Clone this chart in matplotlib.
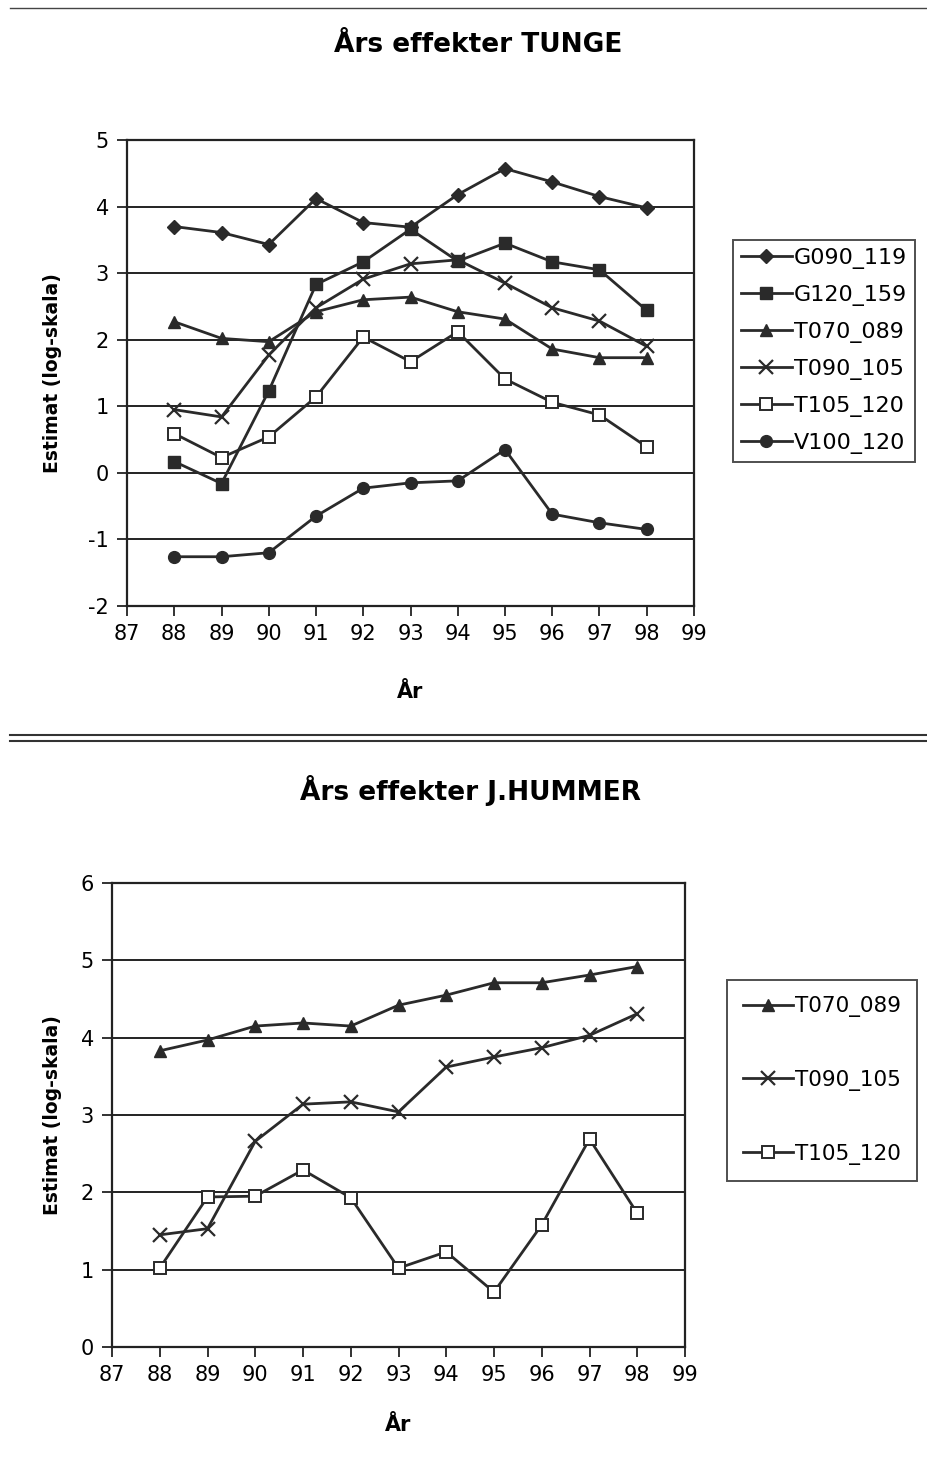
import matplotlib
matplotlib.use("Agg")
import matplotlib.pyplot as plt
from matplotlib.lines import Line2D

plt.rcParams['font.family'] = ['DejaVu Sans']

years = [88, 89, 90, 91, 92, 93, 94, 95, 96, 97, 98]

# Top chart: TUNGE
G090_119 = [3.70, 3.61, 3.43, 4.12, 3.76, 3.69, 4.18, 4.57, 4.37, 4.15, 3.98]
G120_159 = [0.17, -0.16, 1.23, 2.83, 3.17, 3.66, 3.18, 3.45, 3.17, 3.05, 2.44]
T070_089_top = [2.27, 2.02, 1.97, 2.42, 2.60, 2.64, 2.42, 2.31, 1.86, 1.73, 1.73]
T090_105_top = [0.95, 0.84, 1.77, 2.48, 2.91, 3.14, 3.20, 2.85, 2.48, 2.28, 1.90]
T105_120_top = [0.59, 0.23, 0.54, 1.14, 2.04, 1.67, 2.12, 1.41, 1.06, 0.87, 0.39]
V100_120 = [-1.26, -1.26, -1.20, -0.65, -0.23, -0.15, -0.12, 0.35, -0.62, -0.75, -0.85]

# Bottom chart: J.HUMMER
T070_089_bot = [3.83, 3.97, 4.15, 4.19, 4.15, 4.42, 4.55, 4.71, 4.71, 4.81, 4.92]
T090_105_bot = [1.45, 1.53, 2.66, 3.14, 3.17, 3.04, 3.62, 3.75, 3.87, 4.03, 4.31]
T105_120_bot = [1.02, 1.94, 1.95, 2.29, 1.93, 1.02, 1.23, 0.71, 1.58, 2.69, 1.73]

x_ticks = list(range(87, 100))
top_yticks = [-2, -1, 0, 1, 2, 3, 4, 5]
bot_yticks = [0, 1, 2, 3, 4, 5, 6]

LC = '#2a2a2a'
styles = {
    'G090_119': dict(marker='D', markersize=7, mfc=LC, mec=LC),
    'G120_159': dict(marker='s', markersize=8.5, mfc=LC, mec=LC),
    'T070_089': dict(marker='^', markersize=9, mfc=LC, mec=LC),
    'T090_105': dict(marker='x', markersize=10, mfc=LC, mec=LC, mew=1.6),
    'T105_120': dict(marker='s', markersize=8.5, mfc='white', mec=LC, mew=1.4),
    'V100_120': dict(marker='o', markersize=8.5, mfc=LC, mec=LC),
}

fig = plt.figure(figsize=(9.27, 14.78), dpi=100)
W, H = 927, 1478

def fx(px):
    return px / W

def fy(py):
    return 1 - py / H

def style_axes(ax, yticks, ylim, xlab_y, ylab_x):
    ax.set_xlim(87, 99)
    ax.set_ylim(*ylim)
    ax.set_xticks(x_ticks)
    ax.set_xticklabels([str(v) for v in x_ticks], fontsize=15)
    ax.set_yticks(yticks)
    ax.set_yticklabels([str(v) for v in yticks], fontsize=15)
    ax.yaxis.grid(True, color='#222222', linewidth=1.4)
    ax.set_axisbelow(True)
    for s in ax.spines.values():
        s.set_linewidth(1.6)
        s.set_color('#222222')
    ax.tick_params(axis='both', direction='out', length=7, width=1.3, color='#222222', pad=6)
    ax.set_xlabel('År', fontsize=15, fontweight='bold')
    ax.set_ylabel('Estimat (log-skala)', fontsize=13.5, fontweight='bold')
    ax.xaxis.set_label_coords(0.5, xlab_y)
    ax.yaxis.set_label_coords(ylab_x, 0.5)

# Top axes
ax1 = fig.add_axes([fx(127), fy(606), fx(694 - 127), (606 - 140) / H])
top_series = [
    ('G090_119', G090_119),
    ('G120_159', G120_159),
    ('T070_089', T070_089_top),
    ('T090_105', T090_105_top),
    ('T105_120', T105_120_top),
    ('V100_120', V100_120),
]
for name, vals in top_series:
    ax1.plot(years, vals, color=LC, linewidth=2.0, label=name, **styles[name])
style_axes(ax1, top_yticks, (-2, 5), -(682 - 606) / 466, -(127 - 62) / 567)
fig.text(fx(478), fy(45), 'Års effekter TUNGE', ha='center', va='center',
         fontsize=19, fontweight='bold')
leg1 = ax1.legend(loc='upper left', bbox_to_anchor=(fx(733), fy(240)),
                  bbox_transform=fig.transFigure, fontsize=16, frameon=True,
                  fancybox=False, edgecolor='#222222', handlelength=2.3,
                  handletextpad=0.1, labelspacing=0.72, borderpad=0.35,
                  borderaxespad=0)
leg1.get_frame().set_linewidth(1.4)

# Bottom axes
ax2 = fig.add_axes([fx(112), fy(1347), fx(685 - 112), (1347 - 883) / H])
bot_series = [
    ('T070_089', T070_089_bot),
    ('T090_105', T090_105_bot),
    ('T105_120', T105_120_bot),
]
for name, vals in bot_series:
    ax2.plot(years, vals, color=LC, linewidth=2.0, label=name, **styles[name])
style_axes(ax2, bot_yticks, (0, 6), -(1415 - 1347) / 464, -(112 - 62) / 573)
fig.text(fx(470), fy(790), 'Års effekter J.HUMMER', ha='center', va='center',
         fontsize=19, fontweight='bold')
leg2 = ax2.legend(loc='upper left', bbox_to_anchor=(fx(727), fy(980)),
                  bbox_transform=fig.transFigure, fontsize=15.5, frameon=True,
                  fancybox=False, edgecolor='#222222', handlelength=2.3,
                  handletextpad=0.1, labelspacing=2.45, borderpad=0.75,
                  borderaxespad=0)
leg2.get_frame().set_linewidth(1.4)

# Page separator lines (scan decorations)
fig.add_artist(Line2D([fx(10), fx(927)], [fy(8), fy(8)], transform=fig.transFigure,
                      color='#444444', linewidth=1.0))
fig.add_artist(Line2D([fx(10), fx(927)], [fy(735), fy(735)], transform=fig.transFigure,
                      color='#333333', linewidth=1.5))
fig.add_artist(Line2D([fx(10), fx(927)], [fy(741), fy(741)], transform=fig.transFigure,
                      color='#333333', linewidth=1.5))

fig.savefig('out.png', dpi=100)
